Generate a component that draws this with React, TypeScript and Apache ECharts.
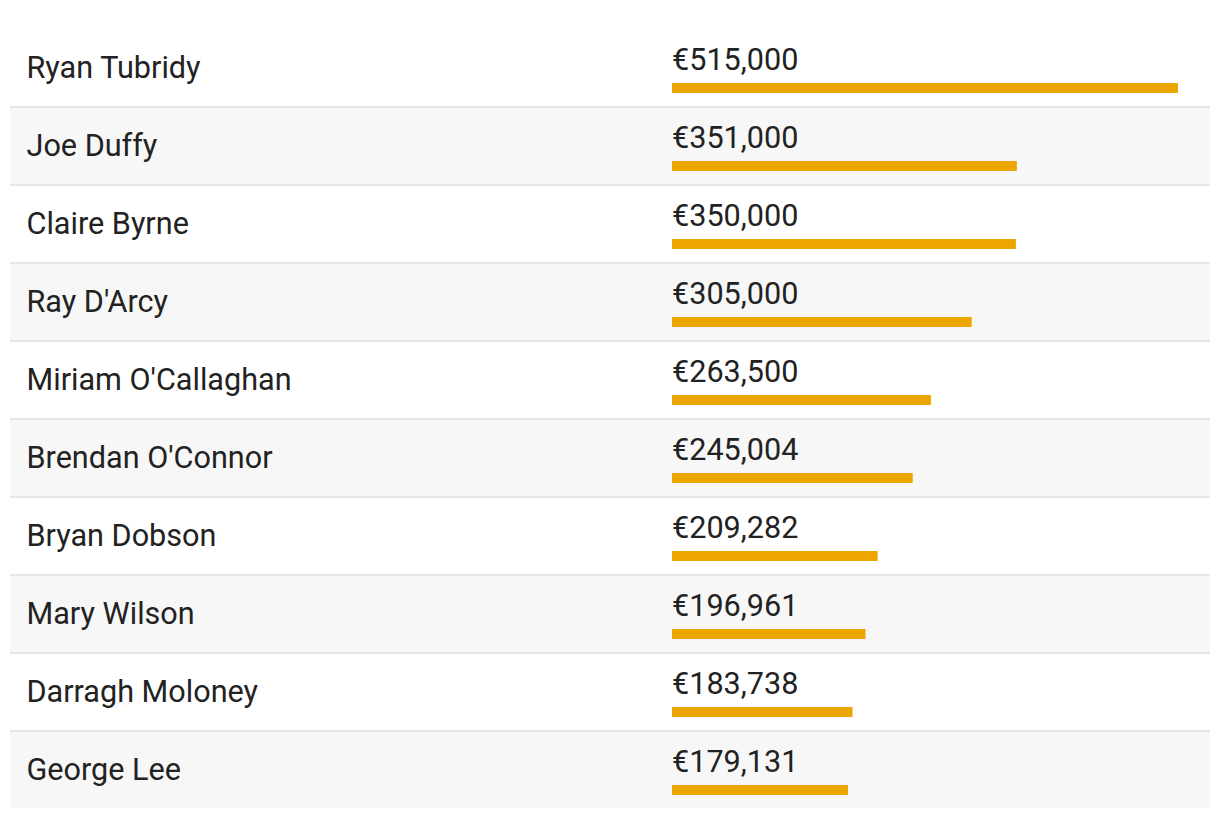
import React, { useEffect, useRef } from 'react';
import * as echarts from 'echarts';

const presenters = [
  'Ryan Tubridy',
  'Joe Duffy',
  'Claire Byrne',
  "Ray D'Arcy",
  "Miriam O'Callaghan",
  "Brendan O'Connor",
  'Bryan Dobson',
  'Mary Wilson',
  'Darragh Moloney',
  'George Lee',
];
const salaries = [515000, 351000, 350000, 305000, 263500, 245004, 209282, 196961, 183738, 179131];

const fmt = (v: number) => '€' + v.toLocaleString('en-US');

export default function App() {
  const ref = useRef<HTMLDivElement>(null);
  useEffect(() => {
    const chart = echarts.init(ref.current!, null, { renderer: 'svg' });
    const n = presenters.length;
    chart.setOption({
      animation: false,
      grid: { left: 672, right: 42, top: 30, bottom: 8 },
      xAxis: { type: 'value', min: 0, max: 515000, show: false },
      yAxis: { type: 'category', data: presenters, inverse: true, show: false },
      series: [
        {
          type: 'custom',
          silent: true,
          clip: false,
          z: 1,
          data: presenters.map((_, i) => [0, i]),
          encode: { x: 0, y: 1 },
          renderItem: (params: any, api: any) => {
            const idx = api.value(1);
            const c = api.coord([0, idx]);
            const band = api.size([0, 1])[1];
            const top = c[1] - band / 2;
            const last = idx === n - 1;
            const children: any[] = [
              {
                type: 'rect',
                shape: { x: 10, y: top, width: 1200, height: last ? band - 2 : band },
                style: { fill: idx % 2 === 1 ? '#f7f7f7' : '#ffffff' },
              },
            ];
            if (!last) {
              children.push({
                type: 'rect',
                shape: { x: 10, y: top + band - 2, width: 1200, height: 2 },
                style: { fill: '#e6e6e6' },
              });
            }
            children.push({
              type: 'text',
              style: {
                x: 26.5,
                y: c[1] - 1.5,
                text: presenters[idx],
                fill: '#222222',
                font: '30.6px Roboto',
                verticalAlign: 'middle',
                align: 'left',
              },
            });
            return { type: 'group', children };
          },
        },
        {
          type: 'custom',
          silent: true,
          clip: false,
          z: 2,
          data: salaries.map((v, i) => [v, i]),
          encode: { x: 0, y: 1 },
          renderItem: (params: any, api: any) => {
            const v = api.value(0);
            const idx = api.value(1);
            const p0 = api.coord([0, idx]);
            const p1 = api.coord([v, idx]);
            return {
              type: 'group',
              children: [
                {
                  type: 'rect',
                  shape: { x: p0[0], y: p0[1] + 14, width: p1[0] - p0[0], height: 10 },
                  style: { fill: '#eda500' },
                },
                {
                  type: 'text',
                  style: {
                    x: p0[0],
                    y: p0[1] - 10,
                    text: fmt(v),
                    fill: '#222222',
                    font: '30.6px Roboto',
                    verticalAlign: 'middle',
                    align: 'left',
                  },
                },
              ],
            };
          },
        },
      ],
    });
    return () => chart.dispose();
  }, []);
  return (
    <div
      ref={ref}
      style={{ position: 'absolute', left: 0, top: 0, width: 1220, height: 818 }}
    />
  );
}
